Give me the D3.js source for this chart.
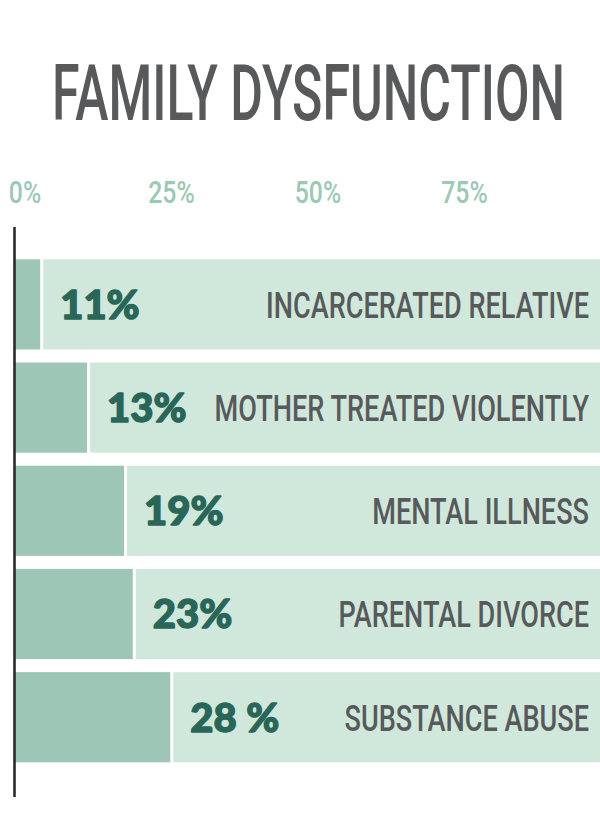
<!DOCTYPE html>
<html>
<head>
<meta charset="utf-8">
<script src="https://cdn.jsdelivr.net/npm/d3@7"></script>
<style>
  html, body { margin: 0; padding: 0; background: #ffffff; }
  svg { display: block; }
</style>
</head>
<body>
<div id="chart"></div>
<script>
// ---- data ----
const title = "FAMILY DYSFUNCTION";
const categories = ["INCARCERATED RELATIVE", "MOTHER TREATED VIOLENTLY", "MENTAL ILLNESS", "PARENTAL DIVORCE", "SUBSTANCE ABUSE"];
const valueLabels = ["11%", "13%", "19%", "23%", "28 %"];           // printed percentages
const barValues = [4.3, 12.3, 18.6, 20.1, 26.5];                      // drawn bar lengths, read against the axis (%)
const tickValues = [0, 25, 50, 75];
const tickLabels = ["0%", "25%", "50%", "75%"];

// ---- layout ----
const W = 600, H = 819;
const baseX = 15;
const svg = d3.select("#chart").append("svg").attr("width", W).attr("height", H);

const x = d3.scaleLinear().domain([0, 100]).range([baseX, baseX + 4 * 146.5]);
const y = d3.scaleBand().domain(categories).range([259.3, 762.3]).paddingInner(0.126).paddingOuter(0);

const COLORS = { light: "#cfe8db", dark: "#9dc6b6", pct: "#2a6658", gray: "#58595b", tick: "#9cc8b6", axis: "#2a2a2a" };
const FONT = "Roboto, 'Liberation Sans', Arial, sans-serif";

// condensed look: draw text at (0,0) inside a group that is translated and horizontally scaled
function condensedText(parent, px, py, factor, anchor) {
  const g = parent.append("g").attr("transform", `translate(${px},${py}) scale(${factor},1)`);
  return g.append("text").attr("x", 0).attr("y", 0).attr("text-anchor", anchor);
}

// title
{
  const t = condensedText(svg, 308.5, 120, 1, "middle")
    .attr("font-family", FONT).attr("font-weight", 500).attr("font-size", 78)
    .attr("fill", COLORS.gray)
    .text(title);
  const w = t.node().getComputedTextLength();
  d3.select(t.node().parentNode).attr("transform", `translate(308.5,120) scale(${513 / w},1)`);
}

// tick labels
const tickG = svg.append("g");
tickValues.forEach((v, i) => {
  condensedText(tickG, x(v) + 10, 203, 0.8, "middle")
    .attr("font-family", FONT).attr("font-weight", 500).attr("font-size", 31)
    .attr("fill", COLORS.tick)
    .text(tickLabels[i]);
});

// rows
const gap = 3;
const rows = svg.append("g").selectAll("g").data(categories).join("g");

rows.append("rect")
  .attr("x", (d, i) => x(barValues[i]) + gap)
  .attr("y", d => y(d))
  .attr("width", (d, i) => W - x(barValues[i]) - gap)
  .attr("height", y.bandwidth())
  .attr("fill", COLORS.light);

rows.append("rect")
  .attr("x", x(0))
  .attr("y", d => y(d))
  .attr("width", (d, i) => x(barValues[i]) - x(0))
  .attr("height", y.bandwidth())
  .attr("fill", COLORS.dark);

rows.append("text")
  .attr("x", (d, i) => x(barValues[i]) + 20)
  .attr("y", d => y(d) + y.bandwidth() / 2)
  .attr("dy", "0.36em")
  .attr("font-family", "Lato, 'Open Sans', sans-serif").attr("font-weight", 900).attr("font-size", 40)
  .attr("fill", COLORS.pct)
  .attr("stroke", COLORS.pct).attr("stroke-width", 1.4).attr("stroke-linejoin", "round")
  .text((d, i) => valueLabels[i]);

rows.each(function (d) {
  condensedText(d3.select(this), 589, y(d) + y.bandwidth() / 2, 0.733, "end")
    .attr("dy", "0.36em")
    .attr("font-family", FONT).attr("font-weight", 500).attr("font-size", 37)
    .attr("fill", COLORS.gray)
    .text(d);
});

// axis line
svg.append("line")
  .attr("x1", baseX - 0.5).attr("x2", baseX - 0.5)
  .attr("y1", 227).attr("y2", 797)
  .attr("stroke", COLORS.axis).attr("stroke-width", 2.6);
</script>
</body>
</html>
